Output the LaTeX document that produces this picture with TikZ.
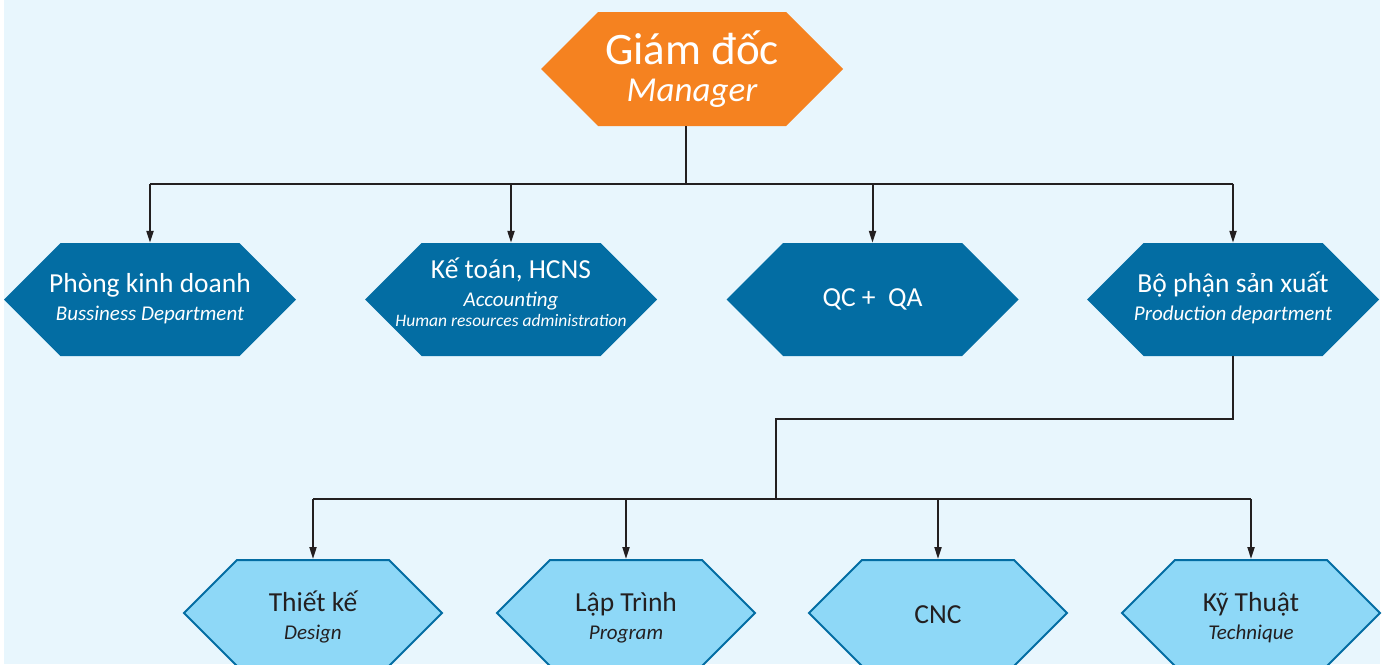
\documentclass[tikz,border=0pt]{standalone}
\usepackage{fontspec}
\setmainfont{Carlito}
\usetikzlibrary{arrows.meta,shapes.symbols}
\definecolor{bgblue}{HTML}{E8F6FD}
\definecolor{mgrorange}{HTML}{F58220}
\definecolor{deptblue}{HTML}{036DA3}
\definecolor{subblue}{HTML}{8ED8F7}
\definecolor{ink}{HTML}{231F20}
\newcommand{\en}[1]{{\fontsize{21}{25}\selectfont\itshape #1}}
\newcommand{\lift}[1]{\rule[-#1]{0pt}{#1}}
\newcommand{\drop}[1]{\rule{0pt}{#1}}
\begin{document}
\begin{tikzpicture}[x=1pt,y=-1pt,
  hexbox/.style={signal,signal to=west and east,signal pointer angle=90,inner xsep=-60pt,inner ysep=0pt,align=center},
  mgrbox/.style={hexbox,fill=mgrorange,text=white,minimum width=302pt,minimum height=114pt,font=\fontsize{45}{37}\selectfont},
  deptbox/.style={hexbox,fill=deptblue,text=white,minimum width=292pt,minimum height=113pt,font=\fontsize{27.5}{28}\selectfont},
  subbox/.style={hexbox,fill=subblue,draw=deptblue,line width=2pt,text=ink,minimum width=258pt,minimum height=106pt,font=\fontsize{27.5}{28}\selectfont},
  wire/.style={draw=ink,line width=2pt},
  link/.style={wire,-{Triangle[length=12pt,width=7pt]}}]
\useasboundingbox (0,0) rectangle (1388,664);
\fill[white] (0,0) rectangle (1388,664);
\fill[bgblue] (4,0) rectangle (1380,664);
\node[mgrbox](mgr) at (692,69){Giám đốc\\{\fontsize{35}{37}\selectfont\itshape Manager}\lift{6pt}};
\node[deptbox](pkd) at (150,299.5){Phòng kinh doanh\\\en{Bussiness Department}\lift{6pt}};
\node[deptbox](kt) at (511,299.5){Kế toán, HCNS\\\en{Accounting}\\[-8pt]{\fontsize{17.5}{22}\selectfont\itshape Human resources administration}\lift{14pt}};
\node[deptbox](qc) at (872.5,299.5){QC +\ \ QA};
\node[deptbox](sx) at (1233,299.5){Bộ phận sản xuất\\\en{Production department}\lift{6pt}};
\node[subbox](tk) at (313,613){\drop{29pt}Thiết kế\\\en{Design}};
\node[subbox](lt) at (626,613){\drop{29pt}Lập Trình\\\en{Program}};
\node[subbox](cnc) at (938,613){\drop{22pt}CNC};
\node[subbox](kth) at (1251,613){\drop{29pt}Kỹ Thuật\\\en{Technique}};
\coordinate(top) at (686,183.5);
\coordinate(turn) at (776,419);
\coordinate(low) at (776,499);
\draw[wire](top|-mgr.south)--(top);\draw[wire](pkd.north|-top)--(sx.north|-top);
\draw[link](pkd.north|-top)--(pkd.north);\draw[link](kt.north|-top)--(kt.north);\draw[link](qc.north|-top)--(qc.north);\draw[link](sx.north|-top)--(sx.north);
\draw[wire](sx.south)|-(turn)--(low);\draw[wire](tk.north|-low)--(kth.north|-low);
\draw[link](tk.north|-low)--(tk.north);\draw[link](lt.north|-low)--(lt.north);\draw[link](cnc.north|-low)--(cnc.north);\draw[link](kth.north|-low)--(kth.north);
\end{tikzpicture}
\end{document}
